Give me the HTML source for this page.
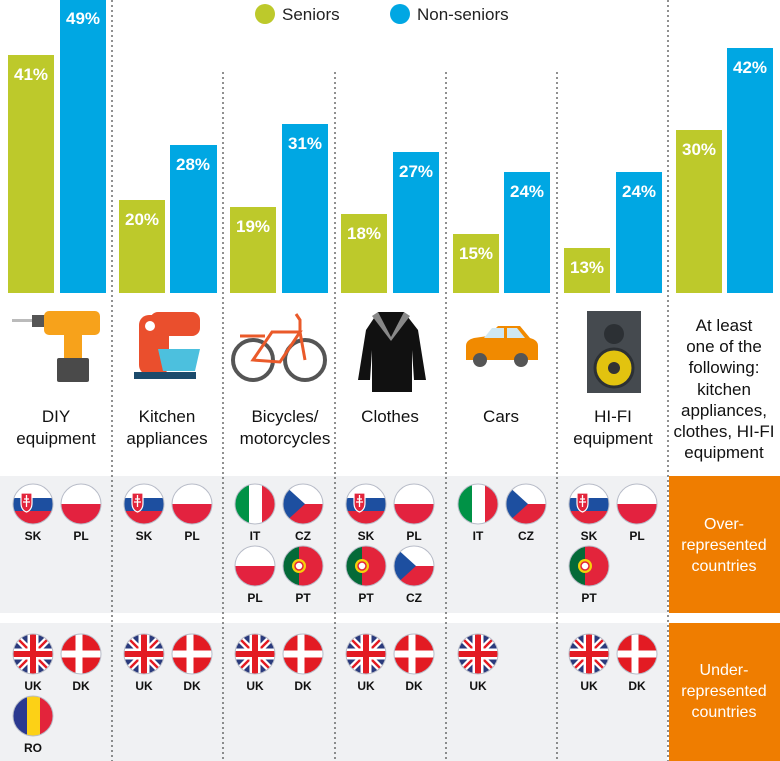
<!DOCTYPE html>
<html><head><meta charset="utf-8"><style>
html,body{margin:0;padding:0;background:#fff;}
svg{display:block;font-family:"Liberation Sans",sans-serif;}
</style></head><body>
<svg width="780" height="761" viewBox="0 0 780 761" xmlns="http://www.w3.org/2000/svg">
<defs>
<clipPath id="c"><circle cx="0" cy="0" r="20"/></clipPath>
<g id="SK"><g clip-path="url(#c)"><rect x="-20" y="-20" width="40" height="14" fill="#fff"/><rect x="-20" y="-6" width="40" height="13" fill="#1d4fa0"/><rect x="-20" y="7" width="40" height="13" fill="#e3243b"/><path d="M-12,-11 h11 v10 q0,7 -5.5,9 q-5.5,-2 -5.5,-9z" fill="#e3243b" stroke="#fff" stroke-width="1.2"/><path d="M-6.5,-9 v12 M-9,-5 h5 M-10,-2 h7" stroke="#fff" stroke-width="1.3"/></g><circle r="20" fill="none" stroke="#b8bcc8" stroke-width="1"/></g>
<g id="PL"><g clip-path="url(#c)"><rect x="-20" y="-20" width="40" height="20" fill="#fff"/><rect x="-20" y="0" width="40" height="20" fill="#e3223f"/></g><circle r="20" fill="none" stroke="#b8bcc8" stroke-width="1"/></g>
<g id="IT"><g clip-path="url(#c)"><rect x="-20" y="-20" width="14" height="40" fill="#009246"/><rect x="-6" y="-20" width="13" height="40" fill="#fff"/><rect x="7" y="-20" width="13" height="40" fill="#e3243b"/></g><circle r="20" fill="none" stroke="#b8bcc8" stroke-width="1"/></g>
<g id="CZ"><g clip-path="url(#c)"><rect x="-20" y="-20" width="40" height="20" fill="#fff"/><rect x="-20" y="0" width="40" height="20" fill="#e3243b"/><path d="M-20,-20 L2,0 L-20,20z" fill="#1d4fa0"/></g><circle r="20" fill="none" stroke="#b8bcc8" stroke-width="1"/></g>
<g id="PT"><g clip-path="url(#c)"><rect x="-20" y="-20" width="16" height="40" fill="#046a38"/><rect x="-4" y="-20" width="24" height="40" fill="#e3243b"/><circle cx="-4" cy="0" r="7" fill="#f5d20a"/><circle cx="-4" cy="0" r="4" fill="#fff" stroke="#e3243b" stroke-width="1.5"/></g><circle r="20" fill="none" stroke="#b8bcc8" stroke-width="1"/></g>
<g id="UK"><g clip-path="url(#c)"><rect x="-20" y="-20" width="40" height="40" fill="#2a3a7c"/><path d="M-20,-20 L20,20 M20,-20 L-20,20" stroke="#fff" stroke-width="7"/><path d="M-20,-20 L20,20 M20,-20 L-20,20" stroke="#e31b23" stroke-width="2.5"/><path d="M0,-20 V20 M-20,0 H20" stroke="#fff" stroke-width="11"/><path d="M0,-20 V20 M-20,0 H20" stroke="#e31b23" stroke-width="6"/></g><circle r="20" fill="none" stroke="#b8bcc8" stroke-width="1"/></g>
<g id="DK"><g clip-path="url(#c)"><rect x="-20" y="-20" width="40" height="40" fill="#e31b23"/><path d="M-2,-20 V20 M-20,0 H20" stroke="#fff" stroke-width="7"/></g><circle r="20" fill="none" stroke="#b8bcc8" stroke-width="1"/></g>
<g id="RO"><g clip-path="url(#c)"><rect x="-20" y="-20" width="14" height="40" fill="#2b3990"/><rect x="-6" y="-20" width="13" height="40" fill="#fcd116"/><rect x="7" y="-20" width="13" height="40" fill="#e3243b"/></g><circle r="20" fill="none" stroke="#b8bcc8" stroke-width="1"/></g>
</defs>

<!-- bands -->
<rect x="0" y="476" width="667" height="137" fill="#f0f1f3"/>
<rect x="0" y="623" width="667" height="138" fill="#f0f1f3"/>
<rect x="669" y="476" width="111" height="137" fill="#ef7d00"/>
<rect x="669" y="623" width="111" height="138" fill="#ef7d00"/>

<!-- separators -->
<g stroke="#555" stroke-width="1.3" stroke-dasharray="2,3">
<line x1="112" y1="0" x2="112" y2="761"/>
<line x1="223" y1="72" x2="223" y2="761"/>
<line x1="335" y1="72" x2="335" y2="761"/>
<line x1="446" y1="72" x2="446" y2="761"/>
<line x1="557" y1="72" x2="557" y2="761"/>
<line x1="668" y1="0" x2="668" y2="761"/>
</g>

<!-- legend -->
<circle cx="265" cy="14" r="10" fill="#bdc92b"/>
<text x="282" y="20" font-size="17" fill="#222">Seniors</text>
<circle cx="400" cy="14" r="10" fill="#00a7e3"/>
<text x="417" y="20" font-size="17" fill="#222">Non-seniors</text>

<!-- bars -->
<g fill="#bdc92b">
<rect x="8" y="55" width="46" height="238"/>
<rect x="119" y="200" width="46" height="93"/>
<rect x="230" y="207" width="46" height="86"/>
<rect x="341" y="214" width="46" height="79"/>
<rect x="453" y="234" width="46" height="59"/>
<rect x="564" y="248" width="46" height="45"/>
<rect x="676" y="130" width="46" height="163"/>
</g>
<g fill="#00a7e3">
<rect x="60" y="0" width="46" height="293"/>
<rect x="170" y="145" width="47" height="148"/>
<rect x="282" y="124" width="46" height="169"/>
<rect x="393" y="152" width="46" height="141"/>
<rect x="504" y="172" width="46" height="121"/>
<rect x="616" y="172" width="46" height="121"/>
<rect x="727" y="48" width="46" height="245"/>
</g>
<g fill="#fff" font-size="17" font-weight="bold" text-anchor="middle">
<text x="31" y="80">41%</text><text x="83" y="24">49%</text>
<text x="142" y="225">20%</text><text x="193" y="170">28%</text>
<text x="253" y="232">19%</text><text x="305" y="149">31%</text>
<text x="364" y="239">18%</text><text x="416" y="177">27%</text>
<text x="476" y="259">15%</text><text x="527" y="197">24%</text>
<text x="587" y="273">13%</text><text x="639" y="197">24%</text>
<text x="699" y="155">30%</text><text x="750" y="73">42%</text>
</g>

<!-- icons -->
<!-- drill -->
<g>
<rect x="12" y="319" width="22" height="3" fill="#bbb"/>
<rect x="32" y="315" width="14" height="12" fill="#555"/>
<rect x="44" y="311" width="56" height="24" rx="5" fill="#f7a21b"/>
<rect x="64" y="330" width="18" height="30" fill="#f7a21b"/>
<rect x="57" y="358" width="32" height="24" rx="2" fill="#4a4a4a"/>
</g>
<!-- mixer -->
<g>
<rect x="139" y="315" width="30" height="60" rx="10" fill="#ea4f2d"/>
<rect x="150" y="312" width="50" height="24" rx="8" fill="#ea4f2d"/>
<circle cx="150" cy="326" r="5" fill="#fff"/>
<path d="M158,349 h42 l-5,22 h-32z" fill="#4cc0de"/>
<rect x="134" y="372" width="62" height="7" fill="#1b4a6b"/>
</g>
<!-- bike -->
<g fill="none" stroke-width="4">
<circle cx="253" cy="360" r="20" stroke="#555"/>
<circle cx="305" cy="360" r="20" stroke="#555"/>
<path d="M253,360 L272,332 L300,332 L280,362 z M300,332 L305,360 M300,332 L300,320 L296,314" stroke="#ea5a2a" stroke-width="3"/>
<path d="M240,336 h25" stroke="#ea5a2a" stroke-width="3"/>
</g>
<!-- coat -->
<g>
<path d="M378,312 h26 l14,18 l8,50 h-12 l-2,-30 l0,42 h-40 l0,-42 l-2,30 h-12 l8,-50z" fill="#111"/>
<path d="M378,312 l13,25 l13,-25 l6,4 l-19,25 l-19,-25z" fill="#888"/>
</g>
<!-- car -->
<g>
<path d="M466,360 v-14 q0,-6 8,-8 l14,-2 l10,-10 h22 l10,12 q8,2 8,8 v14z" fill="#f18a00"/>
<path d="M492,328 h12 v10 h-20z M507,328 h10 l8,10 h-18z" fill="#cfe8f3"/>
<circle cx="480" cy="360" r="7" fill="#555"/><circle cx="521" cy="360" r="7" fill="#555"/>
</g>
<!-- speaker -->
<g>
<rect x="587" y="311" width="54" height="82" fill="#454a4f"/>
<circle cx="614" cy="334" r="10" fill="#2c3034"/>
<circle cx="614" cy="368" r="19" fill="#e2c30f" stroke="#2c3034" stroke-width="3"/>
<circle cx="614" cy="368" r="6" fill="#333"/>
</g>

<!-- category labels -->
<g font-size="17" fill="#111" text-anchor="middle">
<text x="56" y="422">DIY</text><text x="56" y="444">equipment</text>
<text x="167" y="422">Kitchen</text><text x="167" y="444">appliances</text>
<text x="285" y="422">Bicycles/</text><text x="285" y="444">motorcycles</text>
<text x="390" y="422">Clothes</text>
<text x="501" y="422">Cars</text>
<text x="613" y="422">HI-FI</text><text x="613" y="444">equipment</text>
<text x="724" y="331">At least</text><text x="724" y="352">one of the</text><text x="724" y="373">following:</text><text x="724" y="395">kitchen</text><text x="724" y="416">appliances,</text><text x="724" y="437">clothes, HI-FI</text><text x="724" y="458">equipment</text>
</g>
<g font-size="16" fill="#fff" text-anchor="middle">
<text x="724" y="529">Over-</text><text x="724" y="550">represented</text><text x="724" y="571">countries</text>
<text x="724" y="675">Under-</text><text x="724" y="696">represented</text><text x="724" y="717">countries</text>
</g>

<!-- flags -->
<g>
<use href="#SK" x="33" y="504"/><use href="#PL" x="81" y="504"/>
<use href="#SK" x="144" y="504"/><use href="#PL" x="192" y="504"/>
<use href="#IT" x="255" y="504"/><use href="#CZ" x="303" y="504"/>
<use href="#PL" x="255" y="566"/><use href="#PT" x="303" y="566"/>
<use href="#SK" x="366" y="504"/><use href="#PL" x="414" y="504"/>
<use href="#PT" x="366" y="566"/><use href="#CZ" x="414" y="566"/>
<use href="#IT" x="478" y="504"/><use href="#CZ" x="526" y="504"/>
<use href="#SK" x="589" y="504"/><use href="#PL" x="637" y="504"/>
<use href="#PT" x="589" y="566"/>
<use href="#UK" x="33" y="654"/><use href="#DK" x="81" y="654"/>
<use href="#RO" x="33" y="716"/>
<use href="#UK" x="144" y="654"/><use href="#DK" x="192" y="654"/>
<use href="#UK" x="255" y="654"/><use href="#DK" x="303" y="654"/>
<use href="#UK" x="366" y="654"/><use href="#DK" x="414" y="654"/>
<use href="#UK" x="478" y="654"/>
<use href="#UK" x="589" y="654"/><use href="#DK" x="637" y="654"/>
</g>
<g font-size="12" font-weight="bold" fill="#111" text-anchor="middle">
<text x="33" y="540">SK</text><text x="81" y="540">PL</text>
<text x="144" y="540">SK</text><text x="192" y="540">PL</text>
<text x="255" y="540">IT</text><text x="303" y="540">CZ</text>
<text x="255" y="602">PL</text><text x="303" y="602">PT</text>
<text x="366" y="540">SK</text><text x="414" y="540">PL</text>
<text x="366" y="602">PT</text><text x="414" y="602">CZ</text>
<text x="478" y="540">IT</text><text x="526" y="540">CZ</text>
<text x="589" y="540">SK</text><text x="637" y="540">PL</text>
<text x="589" y="602">PT</text>
<text x="33" y="690">UK</text><text x="81" y="690">DK</text>
<text x="33" y="752">RO</text>
<text x="144" y="690">UK</text><text x="192" y="690">DK</text>
<text x="255" y="690">UK</text><text x="303" y="690">DK</text>
<text x="366" y="690">UK</text><text x="414" y="690">DK</text>
<text x="478" y="690">UK</text>
<text x="589" y="690">UK</text><text x="637" y="690">DK</text>
</g>
</svg>
</body></html>
